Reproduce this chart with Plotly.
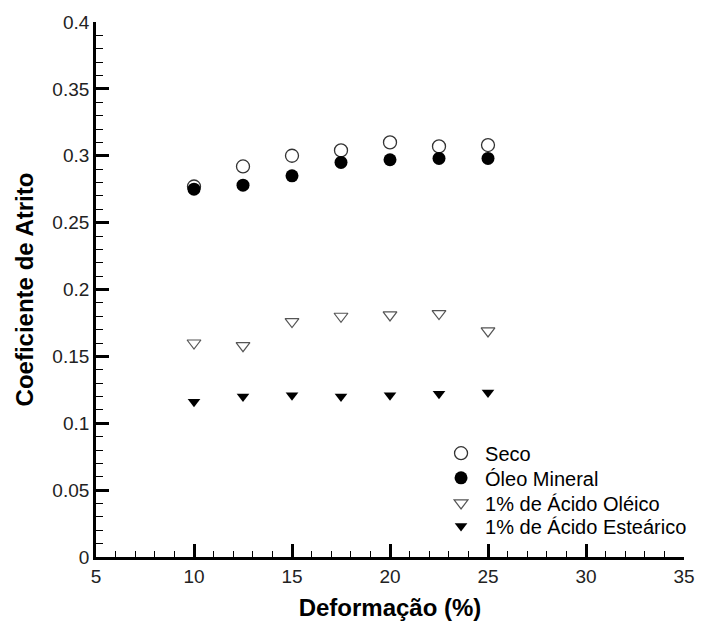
import plotly.graph_objects as go

# Deformation levels (%)
deformacao = [10, 12.5, 15, 17.5, 20, 22.5, 25]

# Friction coefficient for each lubrication condition
seco = [0.277, 0.292, 0.300, 0.304, 0.310, 0.307, 0.308]
oleo_mineral = [0.275, 0.278, 0.285, 0.295, 0.297, 0.298, 0.298]
acido_oleico = [0.160, 0.158, 0.176, 0.180, 0.181, 0.182, 0.169]
acido_estearico = [0.116, 0.120, 0.121, 0.120, 0.121, 0.122, 0.123]

FONT = "Liberation Sans, Arial, Helvetica, sans-serif"

fig = go.Figure()

fig.add_trace(go.Scatter(
    x=deformacao, y=seco, mode="markers", name="Seco", legend="legend",
    marker=dict(symbol="circle-open", size=13, color="#333333",
                line=dict(width=1.3, color="#333333")),
))
fig.add_trace(go.Scatter(
    x=deformacao, y=oleo_mineral, mode="markers", name="Óleo Mineral", legend="legend2",
    marker=dict(symbol="circle", size=13, color="black",
                line=dict(width=0)),
))
fig.add_trace(go.Scatter(
    x=deformacao, y=acido_oleico, mode="markers", name="1% de Ácido Oléico", legend="legend3",
    marker=dict(symbol="triangle-down-open", size=12, color="#555555",
                line=dict(width=1.2, color="#555555")),
))
fig.add_trace(go.Scatter(
    x=deformacao, y=acido_estearico, mode="markers", name="1% de Ácido Esteárico", legend="legend4",
    marker=dict(symbol="triangle-down", size=11, color="black",
                line=dict(width=0)),
))

axis_common = dict(
    showline=True, linecolor="black", linewidth=2.7,
    ticks="inside", ticklen=13, tickwidth=2.7, tickcolor="black",
    showgrid=False, zeroline=False, mirror=False, automargin=False,
    tickfont=dict(family=FONT, size=19, color="#222222"),
)

fig.update_xaxes(
    range=[5, 35], dtick=5, tick0=5,
    minor=dict(ticks="inside", ticklen=6, tickwidth=1.2, tickcolor="black", dtick=1),
    title=dict(text="<b>Deformação (%)</b>", font=dict(family=FONT, size=24, color="black"),
               standoff=14),
    **axis_common,
)
fig.update_yaxes(
    range=[0, 0.4], dtick=0.05, tick0=0,
    minor=dict(ticks="inside", ticklen=7, tickwidth=1.2, tickcolor="black", dtick=0.01),
    title=dict(text="<b>Coeficiente de Atrito</b>", font=dict(family=FONT, size=24, color="black"),
               standoff=12),
    **axis_common,
)

# One legend box per series so each row sits at its own height
legend_style = dict(
    x=0.58, xanchor="left", yanchor="middle",
    font=dict(family=FONT, size=20, color="black"),
    bgcolor="rgba(0,0,0,0)", borderwidth=0,
    itemsizing="trace", itemwidth=38,
)

fig.update_layout(
    width=707, height=622,
    margin=dict(l=96, r=23, t=22, b=65),
    paper_bgcolor="white", plot_bgcolor="white",
    font=dict(family=FONT, color="black"),
    showlegend=True,
    legend=dict(y=0.194, **legend_style),
    legend2=dict(y=0.148, **legend_style),
    legend3=dict(y=0.101, **legend_style),
    legend4=dict(y=0.058, **legend_style),
)

fig.write_html("out.html")
